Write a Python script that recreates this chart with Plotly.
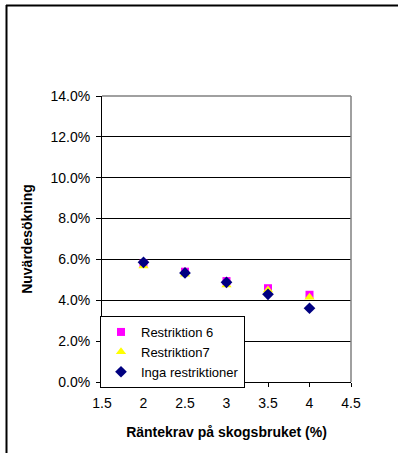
import plotly.graph_objects as go

x_vals = [2, 2.5, 3, 3.5, 4]
restriktion6 = [0.0580, 0.0540, 0.0494, 0.0459, 0.0427]
restriktion7 = [0.0568, 0.0527, 0.0475, 0.0450, 0.0415]
inga = [0.0586, 0.0534, 0.0488, 0.0429, 0.0361]
y_ticks = [0, 0.02, 0.04, 0.06, 0.08, 0.10, 0.12, 0.14]
x_ticks = [1.5, 2, 2.5, 3, 3.5, 4, 4.5]
x_tick_labels = ["1.5", "2", "2.5", "3", "3.5", "4", "4.5"]

FONT = "Liberation Sans, Arial, sans-serif"
W, H = 398, 453
L, R, T, B = 102, 47, 96, 71
pw, ph = W - L - R, H - T - B

def px_x(p):
    return (p - L) / pw

def px_y(p):
    return (H - B - p) / ph

fig = go.Figure()
fig.add_trace(go.Scatter(x=x_vals, y=restriktion6, mode="markers", name="Restriktion 6",
                         marker=dict(symbol="square", size=8, color="#FF00FF")))
fig.add_trace(go.Scatter(x=x_vals, y=restriktion7, mode="markers", name="Restriktion7",
                         marker=dict(symbol="triangle-up", size=9, color="#FFFF00")))
fig.add_trace(go.Scatter(x=x_vals, y=inga, mode="markers", name="Inga restriktioner",
                         marker=dict(symbol="diamond", size=9, color="#000080")))

fig.update_layout(
    width=W, height=H,
    margin=dict(l=L, r=R, t=T, b=B, pad=0),
    paper_bgcolor="white", plot_bgcolor="white",
    font=dict(family=FONT, size=14, color="black"),
    showlegend=True,
    legend=dict(x=px_x(100), y=px_y(316), xanchor="left", yanchor="top",
                bgcolor="white", bordercolor="black", borderwidth=1,
                font=dict(family=FONT, size=13, color="black"),
                itemwidth=30, tracegroupgap=0),
    xaxis=dict(range=[1.5, 4.5], tickvals=x_ticks, ticktext=x_tick_labels,
               showgrid=False, zeroline=False, showline=True, linecolor="black", linewidth=1,
               ticks="outside", ticklen=4, tickcolor="black", ticklabelstandoff=4,
               title=dict(text="<b>Räntekrav på skogsbruket (%)</b>", font=dict(size=14), standoff=17)),
    yaxis=dict(range=[0, 0.14], tickvals=y_ticks, tickformat=".1%",
               showgrid=True, gridcolor="black", gridwidth=1, zeroline=False,
               showline=True, linecolor="black", linewidth=1,
               ticks="outside", ticklen=5, tickcolor="black", ticklabelstandoff=3,
               title=dict(text="<b>Nuvärdesökning</b>", font=dict(size=14), standoff=14)),
    shapes=[
        dict(type="line", xref="paper", yref="paper", x0=0, x1=1, y0=1, y1=1,
             line=dict(color="#808080", width=1.5), layer="above"),
        dict(type="line", xref="paper", yref="paper", x0=1, x1=1, y0=0, y1=1,
             line=dict(color="#808080", width=1.5), layer="above"),
        dict(type="line", xref="paper", yref="paper", x0=px_x(6), x1=px_x(420), y0=px_y(5.5), y1=px_y(5.5),
             line=dict(color="black", width=2)),
        dict(type="line", xref="paper", yref="paper", x0=px_x(6.5), x1=px_x(6.5), y0=px_y(5), y1=px_y(470),
             line=dict(color="black", width=2)),
    ],
)

fig.write_html("out.html")
